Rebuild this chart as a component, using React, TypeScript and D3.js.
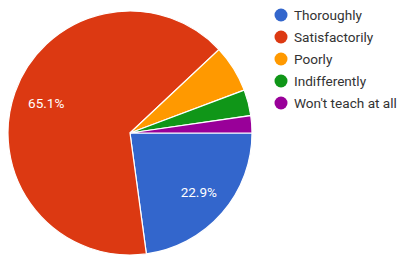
import React from "react";
import * as d3 from "d3";

const categories = ["Thoroughly", "Satisfactorily", "Poorly", "Indifferently", "Won't teach at all"];
const counts = [40, 114, 11, 6, 4];
const colors = ["#3366cc", "#dc3912", "#ff9900", "#109618", "#990099"];

export default function App() {
  const W = 399, H = 257;
  const cx = 130, cy = 133, r = 122;
  const total = d3.sum(counts);
  const pie = d3.pie<number>().sort(null).startAngle(Math.PI / 2).endAngle(Math.PI / 2 + 2 * Math.PI);
  const arcs = pie(counts);
  const arc = d3.arc<d3.PieArcDatum<number>>().innerRadius(0).outerRadius(r);
  const labelArc = d3.arc<d3.PieArcDatum<number>>().innerRadius(90).outerRadius(90);
  return (
    <svg width={W} height={H} style={{ position: "absolute", left: 0, top: 0, background: "#fff" }}
      fontFamily="Roboto, Arial, sans-serif">
      <g transform={`translate(${cx},${cy})`}>
        {arcs.map((a, i) => (
          <path key={i} d={arc(a) || ""} fill={colors[i]} stroke="#fff" strokeWidth={1.2} />
        ))}
        {arcs.map((a, i) => {
          const pct = (a.data / total) * 100;
          if (pct < 10) return null;
          const [x, y] = labelArc.centroid(a);
          return (
            <text key={i} x={x + 1} y={y} dy="0.35em" textAnchor="middle" fill="#fff" fontSize={13.5}>
              {pct.toFixed(1)}%
            </text>
          );
        })}
      </g>
      <g transform="translate(281,15)">
        {categories.map((c, i) => (
          <g key={c} transform={`translate(0,${i * 22})`}>
            <circle r={6.5} fill={colors[i]} />
            <text x={13} dy="0.35em" fontSize={13.6} fill="#333">{c}</text>
          </g>
        ))}
      </g>
    </svg>
  );
}
